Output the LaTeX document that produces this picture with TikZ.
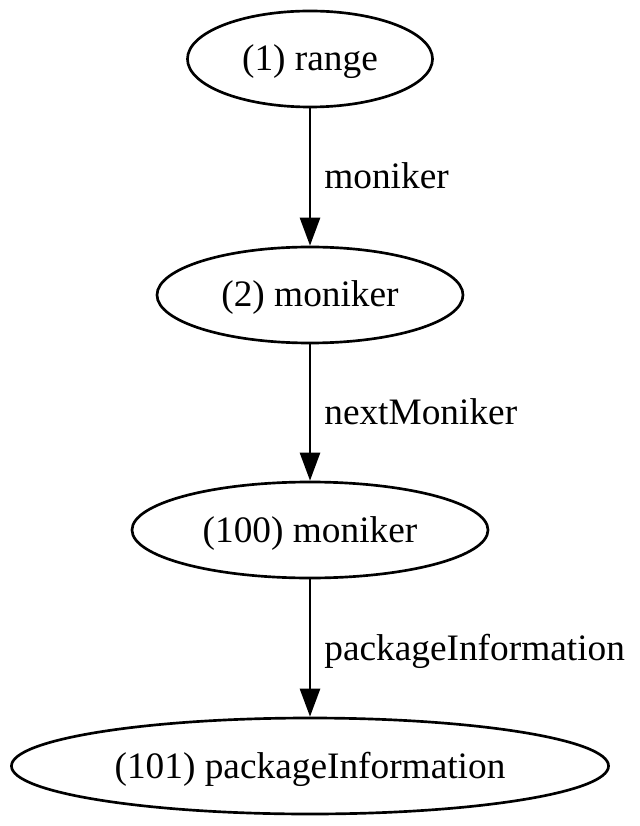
\documentclass[tikz,border=0pt]{standalone}
\usepackage{fontspec}
\setmainfont{Liberation Serif}
\usetikzlibrary{arrows.meta,shapes.geometric}

\tikzset{every picture/.style={line width=1pt}}

\begin{document}
\begin{tikzpicture}[x=0.375pt,y=0.375pt,yscale=-1,xscale=1,
  gvnode/.style={draw,ellipse,inner sep=0pt,minimum height=36pt,text height=11.5pt,text depth=2.5pt,font=\fontsize{14}{16.8}\selectfont},
  gvedge/.style={-{Triangle[length=10.5pt,width=7.5pt]}},
  gvlabel/.style={anchor=base west,inner sep=0pt,font=\fontsize{14}{16.8}\selectfont}]
\useasboundingbox (0,0) rectangle (640,826); %set diagram left start at 0, and has height of 826

% Ellipses
\node [gvnode,minimum width=91.9pt] (range) at (310,59) {(1) range};
\node [gvnode,minimum width=114.75pt] (moniker) at (310,295) {(2) moniker};
\node [gvnode,minimum width=133.5pt] (nextmoniker) at (310,530) {(100) moniker};
\node [gvnode,minimum width=223.9pt] (pkginfo) at (310,766) {(101) packageInformation};

% Edges
\draw [gvedge] (range) -- (moniker) coordinate[midway] (m1);
\draw [gvedge] (moniker) -- (nextmoniker) coordinate[midway] (m2);
\draw [gvedge] (nextmoniker) -- (pkginfo) coordinate[midway] (m3);

% Edge labels
\node [gvlabel] (l1) at ([shift={(13,12)}]m1) {moniker};
\node [gvlabel] (l2) at ([shift={(13,12)}]m2) {nextMoniker};
\node [gvlabel] (l3) at ([shift={(13,12)}]m3) {packageInformation};

\end{tikzpicture}
\end{document}
